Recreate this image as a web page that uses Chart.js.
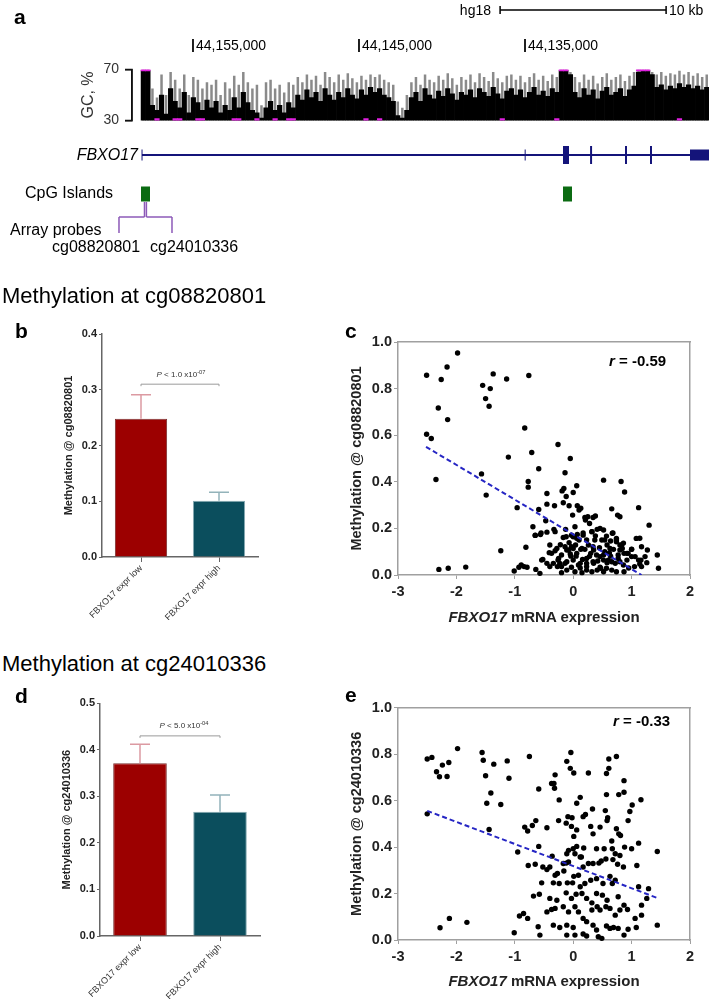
<!DOCTYPE html>
<html>
<head>
<meta charset="utf-8">
<script src="https://cdn.jsdelivr.net/npm/chart.js@4.4.1/dist/chart.umd.min.js"></script>
<style>
  body { margin: 0; width: 709px; height: 999px; position: relative; overflow: hidden; background: #fff;
         font-family: 'Liberation Sans', Arial, sans-serif; color: #000; }
  .box { position: absolute; }
  .t { position: absolute; white-space: nowrap; line-height: 1; }
  sup { font-size: 0.72em; vertical-align: 0.5em; line-height: 0; }
</style>
</head>
<body>
<div class="box" style="left:0;top:0;width:709px;height:250px"><canvas id="track"></canvas></div>
<div class="box" style="left:70px;top:55px;width:639px;height:80px"><canvas id="gc"></canvas></div>
<div class="box" style="left:55px;top:320px;width:210px;height:300px"><canvas id="barB"></canvas></div>
<div class="box" style="left:325px;top:320px;width:380px;height:300px"><canvas id="scatC"></canvas></div>
<div class="box" style="left:55px;top:690px;width:210px;height:309px"><canvas id="barD"></canvas></div>
<div class="box" style="left:325px;top:685px;width:380px;height:300px"><canvas id="scatE"></canvas></div>

<script>
// ---- panel a : genome browser view (hg18, chr positions) ----
const coordTicks = [44155000, 44145000, 44135000];
const scaleBar = [44136500, 10000];            // start, length (bp)
const geneSpan = [44158072, 44123916];
const utrExons = [[44158100, 44158040], [44135020, 44134960], [44125060, 44123916]];
const cdsExons = [[44132710, 44132350], [44131080, 44130960], [44128975, 44128855], [44127470, 44127350]];
const cpgIslands = [[44158132, 44157590], [44132711, 44132169]];
const probePos = [44157922, 44157807];          // cg08820801, cg24010336
const probeLabelPos = [44159458, 44156265];

// GC percent, 125 windows left to right
const gcMean = [69,69, 42,38,50,35,55,45,40,52,36,48, 44,38,46,40,45,36,42,38, 48,40,52,44,38,
  36,32,40,45,38,42,36,44,40, 50,46,54,48,52,45,55,50,46,52,48,55,50,47, 54,50,56,52,55,50,48,45,
  34,32,38, 48,52,45,55,50,47,53,49,55,51,46,52,
  50,54,48,55,52,49,56,51,47,53,55,50,54,48,52,56,50,53,49,55,52, 69,69,66,
  52,48,55,50,54,47,53,56,50,52,55,49,54,57, 68,69,69,66, 56,58,54,57,55,59,56,58,55,57,54,56];
const gcMax = [70,70, 55,48,66,50,68,62,55,66,50,64, 62,55,60,58,62,50,60,55, 65,58,68,60,55,
  58,42,60,62,55,58,52,60,58, 64,60,66,62,65,58,68,64,60,66,62,67,63,60, 65,62,66,64,66,62,60,58,
  45,40,50, 60,64,58,66,62,60,65,62,67,63,58,64,
  62,66,60,67,64,61,68,63,60,65,66,62,65,60,64,67,62,65,61,66,64, 70,70,68,
  64,60,66,62,65,59,64,67,62,64,66,61,65,68, 70,70,70,68, 66,68,65,67,66,69,66,68,65,67,64,66];
const gcLowClip = [3,7,8,12,13,20,21,25,29,32,33,49,52,79,91,118];
const gcTicks = [30, 70];

// ---- panels b / d : bar charts ----
const groupLabels = ['FBXO17 expr low', 'FBXO17 expr high'];
const bMeans = [0.248, 0.101];
const bErrors = [0.043, 0.015];
const bSig = 0.31;
const dMeans = [0.371, 0.267];
const dErrors = [0.041, 0.036];
const dSig = 0.43;

// ---- panels c / e : scatter (FBXO17 expression vs methylation) ----
const cPoints = [
  [-2.51,0.857],[-1.98,0.953],[-2.16,0.893],[-2.26,0.839],[-2.31,0.717],[-2.15,0.667],[-2.51,0.604],[-2.43,0.586],[-2.35,0.41],
  [-1.55,0.814],[-1.42,0.80],[-1.50,0.757],[-1.44,0.724],[-1.37,0.863],[-1.14,0.841],[-0.76,0.856],[-0.83,0.631],
  [-1.57,0.434],[-1.49,0.343],[-1.11,0.506],[-0.71,0.526],[-0.59,0.456],[-0.26,0.56],[-0.05,0.50],[-0.77,0.401],[-0.77,0.377],[-0.14,0.439],
  [-0.45,0.35],[-0.96,0.289],[-0.59,0.281],[-0.45,0.304],[-0.32,0.297],[-0.19,0.361],[-0.16,0.371],[-0.12,0.337],[0.0,0.354],[0.06,0.383],
  [-0.17,0.31],[-0.07,0.297],[0.07,0.297],[0.10,0.279],[0.13,0.287],[-0.01,0.257],[0.20,0.247],[0.25,0.25],[0.34,0.247],[0.38,0.253],
  [0.52,0.407],[0.66,0.284],[0.76,0.257],[0.80,0.25],[0.82,0.401],[0.88,0.356],[1.12,0.289],
  [-1.24,0.104],[-2.30,0.024],[-2.14,0.029],[-1.84,0.034],[-1.01,0.017],[-0.93,0.033],[-0.89,0.043],[-0.84,0.036],[-0.79,0.033],
  [-0.81,0.119],[-0.69,0.207],[-0.65,0.17],[-0.56,0.174],[-0.45,0.184],[-0.47,0.233],[-0.33,0.196],[-0.64,0.024],[-0.57,0.007],
  [-0.52,0.067],[-0.40,0.129],[-0.41,0.096],[-0.31,0.104],[-0.25,0.071],[-0.27,0.036],[-0.23,0.05],[-0.17,0.161],[-0.13,0.196],
  [-0.07,0.139],[-0.08,0.107],[-0.04,0.081],[-0.11,0.057],[-0.03,0.033],[0.03,0.207],[0.07,0.174],[0.04,0.129],[0.10,0.15],
  [0.13,0.11],[0.05,0.081],[0.16,0.067],[0.09,0.043],[0.21,0.236],[0.28,0.221],[0.32,0.186],[0.37,0.15],[0.41,0.196],[0.45,0.117],
  [0.49,0.15],[0.26,0.129],[0.30,0.093],[0.23,0.05],[0.34,0.057],[0.41,0.021],[0.47,0.029],[0.54,0.10],[0.58,0.053],[0.64,0.081],
  [0.69,0.11],[0.67,0.179],[0.74,0.157],[0.72,0.05],[0.77,0.086],[0.83,0.129],[0.87,0.093],[0.92,0.064],[0.87,0.014],[1.00,0.11],
  [1.08,0.157],[1.05,0.036],[1.17,0.036],[1.17,0.121],[1.27,0.107],[1.30,0.214],[1.44,0.086],[1.46,0.029],[1.26,0.053],
  [-0.31,0.186],[-0.12,0.164],[0.17,0.18],[0.46,0.20],[0.54,0.15],[0.86,0.137],[1.06,0.079],[1.16,0.064],[0.80,0.107],[0.63,0.114],
  [0.46,0.079],[0.35,0.107],[0.15,0.114],[0.06,0.093],[-0.03,0.121],[-0.20,0.086],[-0.28,0.114],[-0.37,0.093],[-0.54,0.064],[-0.45,0.05],
  [-0.14,0.05],[0.0,0.064],[0.12,0.05],[0.23,0.071],[0.52,0.064],[0.66,0.057],[-0.20,0.036],
  [0.52,0.193],[0.57,0.167],[0.64,0.146],[0.58,0.129],[0.74,0.143],[0.80,0.129],[0.84,0.114],[0.94,0.093],[1.0,0.079],[1.12,0.064],
  [1.14,0.047],[0.57,0.029],[0.66,0.021],[0.74,0.014],[0.52,0.014],[0.32,0.014],[0.23,0.021],[0.15,0.01],[0.03,0.014],[-0.11,0.021],
  [-0.20,0.01],[-0.34,0.05],[-0.40,0.036],[-0.14,0.121],[0.0,0.164],[0.17,0.171],[0.23,0.15],[0.52,0.086],[0.60,0.064],[0.80,0.057],
  [0.86,0.043],[1.23,0.079],[0.40,0.086],[0.34,0.121],[0.20,0.11],[0.0,0.114],
  [-0.55,0.18],[0.06,0.158],[1.14,0.158],[0.92,0.093],[-0.11,0.107],[-0.26,0.064],[0.35,0.05],[0.77,0.071],[0.23,0.036],[0.46,0.033],
  [-0.65,0.171],[-0.03,0.171],[0.32,0.186],[0.68,0.18],[0.74,0.15],[1.0,0.111],[0.28,0.08],[0.42,0.06],[0.12,0.03],[-0.05,0.09],
  [0.62,0.095],[0.95,0.03],[0.38,0.168],[-0.22,0.13]
];
const cFit = [[-2.52, 0.55], [1.17, 0.0]];

const ePoints = [
  [-2.50,0.779],[-2.42,0.786],[-2.34,0.724],[-2.29,0.703],[-2.24,0.753],[-2.13,0.764],[-2.16,0.704],[-1.98,0.824],
  [-1.56,0.807],[-1.54,0.774],[-1.36,0.757],[-1.13,0.771],[-1.50,0.707],[-1.10,0.696],[-1.41,0.633],[-1.48,0.589],[-1.24,0.583],
  [-0.75,0.79],[-0.59,0.65],[-2.50,0.543],[-1.44,0.476],[-0.83,0.486],[-0.78,0.469],[-0.70,0.493],[-0.64,0.514],[-0.45,0.483],
  [-0.37,0.674],[-0.33,0.674],[-0.31,0.711],[-0.32,0.653],[-0.24,0.603],[-0.25,0.514],[-0.11,0.769],[-0.04,0.807],[-0.05,0.739],
  [0.01,0.719],[0.26,0.719],[-0.12,0.503],[-0.09,0.531],[-0.02,0.526],[0.06,0.589],[0.12,0.614],[-0.03,0.489],[0.01,0.446],
  [0.06,0.474],[0.17,0.531],[0.21,0.54],[0.33,0.564],[0.30,0.489],[0.46,0.486],[0.34,0.457],[0.55,0.557],[0.57,0.626],[0.57,0.717],
  [0.61,0.739],[0.61,0.779],[0.74,0.79],[0.78,0.626],[0.87,0.636],[0.87,0.686],[0.59,0.526],[0.58,0.514],[0.66,0.426],[0.74,0.479],
  [0.78,0.457],[0.81,0.45],[0.94,0.514],[0.97,0.553],[1.01,0.581],[1.16,0.604],[0.88,0.40],[1.00,0.393],[1.12,0.417],[0.0,0.393],
  [0.06,0.403],[0.03,0.371],[0.12,0.357],[0.18,0.396],[0.40,0.393],[0.53,0.393],[0.67,0.393],[1.44,0.381],[-0.95,0.379],[-0.59,0.403],
  [-0.36,0.361],
  [-0.77,0.321],[-0.65,0.326],[-0.52,0.314],[-0.45,0.303],[-0.40,0.314],[-0.31,0.279],[-0.27,0.286],[-0.17,0.329],[-0.12,0.331],
  [-0.08,0.336],[-0.16,0.297],[-0.10,0.246],[-0.01,0.246],[0.01,0.274],[0.09,0.279],[0.17,0.314],[0.26,0.329],[0.34,0.329],[0.44,0.331],
  [0.48,0.34],[0.56,0.349],[0.68,0.346],[0.76,0.326],[0.86,0.314],[0.63,0.274],[0.72,0.257],[0.67,0.243],[0.51,0.243],[0.40,0.264],
  [0.30,0.257],[0.20,0.243],[0.12,0.229],[-0.34,0.246],[-0.24,0.243],[-0.54,0.246],
  [-0.68,0.189],[-0.58,0.197],[-0.40,0.179],[-0.28,0.171],[-0.12,0.203],[-0.03,0.179],[0.05,0.197],[0.15,0.20],[0.23,0.179],[0.32,0.16],
  [0.40,0.20],[0.50,0.193],[0.58,0.171],[0.77,0.186],[0.87,0.15],[1.12,0.229],[1.29,0.221],[1.26,0.179],[1.17,0.15],
  [-0.92,0.103],[-0.85,0.114],[-0.78,0.093],[-0.45,0.121],[-0.37,0.131],[-0.31,0.136],[-0.17,0.143],[-0.08,0.121],[0.03,0.143],
  [0.09,0.121],[0.17,0.093],[0.23,0.079],[0.32,0.129],[0.41,0.143],[0.46,0.129],[0.56,0.143],[0.63,0.136],[0.72,0.107],[0.80,0.129],
  [0.93,0.131],[1.06,0.093],[1.17,0.107],
  [-2.28,0.053],[-2.12,0.093],[-1.82,0.076],[-1.01,0.031],[-0.60,0.057],[-0.57,0.021],[-0.34,0.064],[-0.23,0.054],[-0.11,0.064],
  [0.0,0.054],[0.03,0.021],[-0.11,0.021],[0.17,0.026],[0.23,0.017],[0.34,0.064],[0.40,0.043],[0.43,0.014],[0.49,0.007],[0.57,0.06],
  [0.63,0.05],[0.69,0.054],[0.77,0.05],[0.87,0.021],[0.94,0.046],[1.08,0.054],[1.44,0.064],
  [-0.11,0.371],[-0.08,0.386],[0.14,0.357],[0.72,0.371],[0.80,0.364],[1.09,0.321]
];
const eFit = [[-2.50, 0.556], [1.44, 0.181]];

// ---------------------------------------------------------------
const FONT = "'Liberation Sans', Arial, sans-serif";
Chart.defaults.font.family = FONT;
Chart.defaults.color = '#222';
Chart.defaults.animation = false;
Chart.defaults.responsive = true;
Chart.defaults.maintainAspectRatio = false;
Chart.defaults.plugins.legend.display = false;
Chart.defaults.plugins.tooltip.enabled = false;

function addText(html, x, base, size, style) {
  const d = document.createElement('div');
  d.className = 't';
  d.innerHTML = html;
  d.style.left = x + 'px';
  d.style.top = (base - 0.8465 * size) + 'px';
  d.style.fontSize = size + 'px';
  Object.assign(d.style, style || {});
  document.body.appendChild(d);
}
const RIGHT = { transform: 'translateX(-100%)' };
const CENTER = { transform: 'translateX(-50%)' };
const BOLD = { fontWeight: 'bold' };

// track rows (pixel rows of the panel a canvas)
const ROW = { scale: 10, tickTop: 39, tickBottom: 52, gene: 155, cpg: 194, probeTop: 202, probeMid: 217, probeBottom: 233 };
const NAVY = '#14147a', GREEN = '#0b6b12', PURPLE = '#8d5ab8';

function seg(x1, x2, y1, y2, color, width) {
  return { type: 'line', data: [{ x: x1, y: y1 }, { x: x2, y: y2 }], borderColor: color, borderWidth: width,
           pointRadius: 0, showLine: true, borderCapStyle: 'butt', clip: false };
}

const trackSets = [];
// scale bar
trackSets.push(seg(scaleBar[0], scaleBar[0] - scaleBar[1], ROW.scale, ROW.scale, '#000', 1.5));
trackSets.push(seg(scaleBar[0], scaleBar[0], ROW.scale - 4, ROW.scale + 4, '#000', 1.5));
trackSets.push(seg(scaleBar[0] - scaleBar[1], scaleBar[0] - scaleBar[1], ROW.scale - 4, ROW.scale + 4, '#000', 1.5));
// coordinate ticks
coordTicks.forEach(c => trackSets.push(seg(c, c, ROW.tickTop, ROW.tickBottom, '#000', 1)));
// gene model
trackSets.push(seg(geneSpan[0], geneSpan[1], ROW.gene, ROW.gene, NAVY, 2));
utrExons.forEach(e => trackSets.push(seg(e[0], e[1], ROW.gene, ROW.gene, NAVY, 11)));
cdsExons.forEach(e => trackSets.push(seg(e[0], e[1], ROW.gene, ROW.gene, NAVY, 18)));
// CpG islands
cpgIslands.forEach(e => trackSets.push(seg(e[0], e[1], ROW.cpg, ROW.cpg, GREEN, 15)));
// array probe callouts
probePos.forEach((p, i) => {
  trackSets.push(seg(p, p, ROW.probeTop, ROW.probeMid, PURPLE, 1.5));
  trackSets.push(seg(p, probeLabelPos[i], ROW.probeMid, ROW.probeMid, PURPLE, 1.5));
  trackSets.push(seg(probeLabelPos[i], probeLabelPos[i], ROW.probeMid, ROW.probeBottom, PURPLE, 1.5));
});

const fmt = v => String(v).replace(/\B(?=(\d{3})+(?!\d))/g, ',');
const coordTextPlugin = {
  id: 'coordText',
  afterDatasetsDraw(chart) {
    const { ctx, scales: { x } } = chart;
    ctx.save();
    ctx.font = '14px ' + FONT;
    ctx.fillStyle = '#000';
    ctx.textBaseline = 'alphabetic';
    coordTicks.forEach(c => ctx.fillText(fmt(c), x.getPixelForValue(c) + 3, 50));
    ctx.restore();
  }
};

new Chart(document.getElementById('track'), {
  type: 'scatter',
  data: { datasets: trackSets },
  options: {
    layout: { padding: 0 },
    scales: {
      x: { type: 'linear', min: 44123916, max: 44166626, reverse: true, display: false },
      y: { type: 'linear', min: 0, max: 250, reverse: true, display: false }
    }
  },
  plugins: [coordTextPlugin]
});

// bracket-style axis of the GC track, drawn at the y scale's own positions
const gcAxisPlugin = {
  id: 'gcAxis',
  afterDraw(chart) {
    const { ctx, chartArea } = chart;
    const y = chart.scales.y;
    const x0 = chartArea.left;
    const top = y.getPixelForValue(gcTicks[1]), bottom = y.getPixelForValue(gcTicks[0]);
    ctx.save();
    ctx.strokeStyle = '#111';
    ctx.lineWidth = 1.5;
    ctx.beginPath();
    ctx.moveTo(x0 - 7, top); ctx.lineTo(x0, top); ctx.lineTo(x0, bottom); ctx.lineTo(x0 - 7, bottom);
    ctx.stroke();
    ctx.restore();
  }
};

// GC percent track
new Chart(document.getElementById('gc'), {
  type: 'bar',
  data: {
    datasets: [
      { data: gcMax.map((v, i) => ({ x: i, y: v })), backgroundColor: '#8a8a8a', barPercentage: 0.55,
        categoryPercentage: 1, grouped: false, order: 3 },
      { data: gcMean.map((v, i) => ({ x: i, y: v })), backgroundColor: '#000', barPercentage: 1,
        categoryPercentage: 1, grouped: false, order: 2 },
      { data: gcLowClip.map(i => ({ x: i, y: [30, 31.6] })), backgroundColor: '#e020e0', barPercentage: 1,
        categoryPercentage: 1, grouped: false, order: 1 },
      { data: gcMax.map((v, i) => v >= 70 ? { x: i, y: [68.8, 70] } : null).filter(Boolean),
        backgroundColor: '#e020e0', barPercentage: 1, categoryPercentage: 1, grouped: false, order: 1 }
    ]
  },
  options: {
    layout: { padding: { top: 7, bottom: 8, right: 0, left: 0 } },
    scales: {
      x: { type: 'linear', min: -2.5, max: 124.5, offset: false, display: false },
      y: {
        min: 30, max: 70,
        afterBuildTicks: s => { s.ticks = gcTicks.map(v => ({ value: v })); },
        afterFit: s => { s.width = 62; },
        ticks: { font: { size: 14 }, color: '#333', padding: 6 },
        grid: { drawOnChartArea: false, tickLength: 7, color: '#111', lineWidth: 1.5 },
        border: { display: true, color: '#111', width: 1.5 },
        title: { display: true, text: 'GC, %', font: { size: 16 }, color: '#333', padding: { top: 9, bottom: 0 } }
      }
    }
  },
  plugins: [gcAxisPlugin]
});

// ---- bar charts ----
const errorBarPlugin = {
  id: 'errorBars',
  afterDatasetsDraw(chart, args, opts) {
    const { ctx } = chart;
    const y = chart.scales.y;
    const meta = chart.getDatasetMeta(0);
    const vals = chart.data.datasets[0].data;
    ctx.save();
    ctx.lineWidth = 1.5;
    meta.data.forEach((bar, i) => {
      const top = y.getPixelForValue(vals[i]);
      const end = y.getPixelForValue(vals[i] + opts.errors[i]);
      ctx.strokeStyle = opts.colors[i];
      ctx.beginPath();
      ctx.moveTo(bar.x, top); ctx.lineTo(bar.x, end);
      ctx.moveTo(bar.x - opts.cap, end); ctx.lineTo(bar.x + opts.cap, end);
      ctx.stroke();
    });
    const sy = y.getPixelForValue(opts.sig);
    const x0 = meta.data[0].x, x1 = meta.data[1].x;
    ctx.strokeStyle = '#9a9a9a';
    ctx.lineWidth = 1;
    ctx.beginPath();
    ctx.moveTo(x0, sy + 2); ctx.lineTo(x0, sy); ctx.lineTo(x1, sy); ctx.lineTo(x1, sy + 2);
    ctx.stroke();
    ctx.restore();
  }
};

function barChart(id, means, errors, sig, yMax, yTitle, yWidth, titlePad, pad) {
  new Chart(document.getElementById(id), {
    type: 'bar',
    data: {
      labels: groupLabels,
      datasets: [{
        data: means,
        backgroundColor: ['#9c0000', '#0b4e5d'],
        borderColor: ['#7a3030', '#86aab3'],
        borderWidth: 1,
        barPercentage: 0.67,
        categoryPercentage: 1
      }]
    },
    options: {
      layout: { padding: pad },
      plugins: { errorBars: { errors: errors, colors: ['#dc9aa2', '#93b3ba'], cap: 10, sig: sig } },
      scales: {
        x: {
          afterFit: s => { s.height = 63; },
          ticks: { minRotation: 45, maxRotation: 45, font: { size: 9 }, color: '#333', padding: 1 },
          grid: { drawOnChartArea: false, offset: false, tickLength: 5, color: '#666' },
          border: { color: '#666', width: 1.5 }
        },
        y: {
          min: 0, max: yMax,
          afterFit: s => { s.width = yWidth; },
          ticks: { stepSize: 0.1, callback: v => v.toFixed(1), font: { size: 11, weight: 'bold' }, color: '#222', padding: 2 },
          grid: { drawOnChartArea: false, tickLength: 3, color: '#666' },
          border: { color: '#666', width: 1.5 },
          title: { display: true, text: yTitle, font: { size: 11, weight: 'bold' }, color: '#222',
                   padding: { top: titlePad, bottom: 0 } }
        }
      }
    },
    plugins: [errorBarPlugin]
  });
}
barChart('barB', bMeans, bErrors, bSig, 0.4, 'Methylation @ cg08820801', 47, 7.4, { top: 14, right: 7, left: 0, bottom: 0 });
barChart('barD', dMeans, dErrors, dSig, 0.5, 'Methylation @ cg24010336', 45, 5.4, { top: 13.3, right: 5, left: 0, bottom: 0 });

// ---- scatter charts ----
function scatterChart(id, pts, fit, yTitle, padTop) {
  const boxAxis = { display: true, ticks: { display: false }, grid: { display: false },
                    border: { color: '#a0a0a0', width: 1.5 } };
  new Chart(document.getElementById(id), {
    type: 'scatter',
    data: {
      datasets: [
        { type: 'line', data: fit.map(([x, y]) => ({ x, y })), borderColor: '#2626c4', borderWidth: 2,
          borderDash: [5, 3], pointRadius: 0, order: 0 },
        { data: pts.map(([x, y]) => ({ x, y })), backgroundColor: '#000', borderWidth: 0, pointRadius: 2.7,
          clip: false, order: 1 }
      ]
    },
    options: {
      layout: { padding: { top: padTop, right: 15, left: 0, bottom: 0 } },
      scales: {
        x: {
          type: 'linear', min: -3, max: 2,
          afterFit: s => { s.height = 45; },
          ticks: { stepSize: 1, font: { size: 14.5, weight: 'bold' }, color: '#222', padding: 4 },
          grid: { drawOnChartArea: false, tickLength: 4, color: '#a0a0a0' },
          border: { color: '#a0a0a0', width: 1.5 }
        },
        y: {
          type: 'linear', min: 0, max: 1,
          afterFit: s => { s.width = 73; },
          ticks: { stepSize: 0.2, callback: v => v.toFixed(1), font: { size: 14.5, weight: 'bold' }, color: '#222', padding: 2 },
          grid: { drawOnChartArea: false, tickLength: 4, color: '#a0a0a0' },
          border: { color: '#a0a0a0', width: 1.5 },
          title: { display: true, text: yTitle, font: { size: 14.5, weight: 'bold' }, color: '#222',
                   padding: { top: 23.3, bottom: 0 } }
        },
        xTop: Object.assign({ type: 'linear', position: 'top', min: -3, max: 2, afterFit: s => { s.height = 0; } }, boxAxis),
        yRight: Object.assign({ type: 'linear', position: 'right', min: 0, max: 1, afterFit: s => { s.width = 0; } }, boxAxis)
      }
    }
  });
}
scatterChart('scatC', cPoints, cFit, 'Methylation @ cg08820801', 22);
scatterChart('scatE', ePoints, eFit, 'Methylation @ cg24010336', 22.7);

// ---- text ----
addText('a', 14, 24, 21, BOLD);
addText('hg18', 491, 15, 14, RIGHT);
addText('10 kb', 669, 15, 14);
addText('<i>FBXO17</i>', 138, 161, 16, RIGHT);
addText('CpG Islands', 25, 199, 16);
addText('Array probes', 10, 236, 16);
addText('cg08820801', 52, 253, 16);
addText('cg24010336', 150, 253, 16);

addText('Methylation at cg08820801', 2, 304, 22);
addText('Methylation at cg24010336', 2, 672, 22);
addText('b', 15, 338, 21, BOLD);
addText('c', 345, 338, 21, BOLD);
addText('d', 15, 703, 21, BOLD);
addText('e', 345, 702, 21, BOLD);

addText('<i>P</i> &lt; 1.0 x10<sup>-07</sup>', 181, 378, 8, Object.assign({ color: '#333' }, CENTER));
addText('<i>P</i> &lt; 5.0 x10<sup>-04</sup>', 184, 729, 8, Object.assign({ color: '#333' }, CENTER));

addText('<i>r</i> = -0.59', 609, 366, 15, BOLD);
addText('<i>r</i> = -0.33', 613, 726, 15, BOLD);
addText('<i>FBXO17</i> mRNA expression', 544, 622, 15, Object.assign({ color: '#222' }, BOLD, CENTER));
addText('<i>FBXO17</i> mRNA expression', 544, 986, 15, Object.assign({ color: '#222' }, BOLD, CENTER));
</script>
</body>
</html>
